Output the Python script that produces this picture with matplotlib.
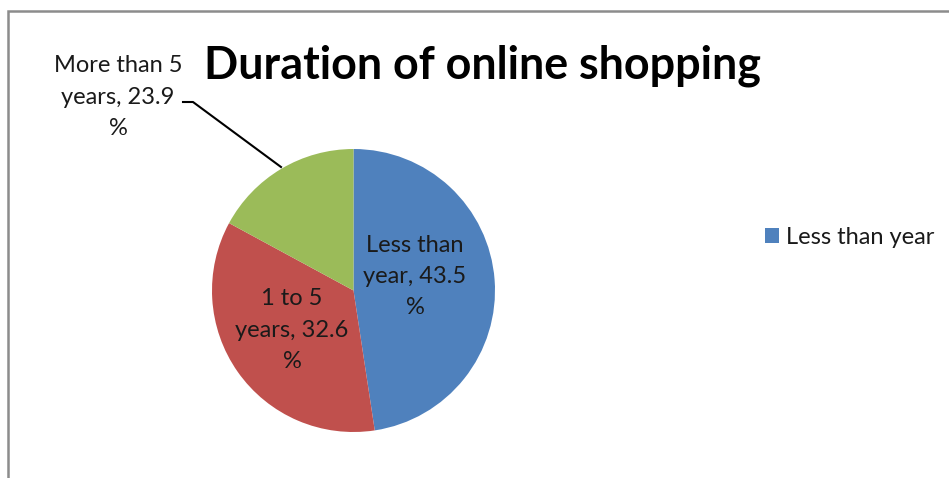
import numpy as np
import matplotlib
matplotlib.use("Agg")
from matplotlib import pyplot as plt
from matplotlib.patches import Rectangle

# slice shares as drawn in the picture (clockwise from 12 o'clock)
categories = ["Less than year", "1 to 5 years", "More than 5 years"]
shares = [47.6, 35.3, 17.1]
# percentages printed on the labels
label_pct = ["43.5", "32.6", "23.9"]
label_text = ["Less than\nyear, 43.5\n%", "1 to 5\nyears, 32.6\n%", "More than 5\nyears, 23.9\n%"]
colors = ["#4F81BD", "#C0504D", "#9BBB59"]

W, H = 949, 478
plt.rcParams['font.family'] = ['Lato', 'DejaVu Sans']
fig = plt.figure(figsize=(W / 100, H / 100), dpi=100)

# outer chart frame (only left and top edges visible)
fig.patches.append(Rectangle((8 / W, -0.1), 1.2, (H - 11) / H + 0.1, transform=fig.transFigure,
                             fill=False, edgecolor="#8c8c8c", linewidth=1.8))

# pie axes: centre (353.5, 290.5), radius 141.5 px
cx, cy, r = 353.5, 290.5, 141.5
ax = fig.add_axes([(cx - r) / W, (H - cy - r) / H, 2 * r / W, 2 * r / H])
wedges, _ = ax.pie(shares, colors=colors, startangle=90, counterclock=False,
                   wedgeprops=dict(linewidth=0))
ax.set_xlim(-1, 1)
ax.set_ylim(-1, 1)
ax.set_aspect("equal")
ax.axis("off")

txt = "#1a1a1a"
fs = 17
ls = 1.6
ax.text(0.435, 0.10, label_text[0], ha="center", va="center", fontsize=fs,
        color=txt, linespacing=ls)
ax.text(-0.435, -0.28, label_text[1], ha="center", va="center", fontsize=fs,
        color=txt, linespacing=ls)

# outside label with leader line (figure pixel coords)
def fx(x):
    return x / W

def fy(y):
    return 1 - y / H

fig.text(fx(118), fy(97), label_text[2], ha="center", va="center", fontsize=fs,
         color=txt, linespacing=ls)
fig.add_artist(plt.Line2D([fx(183), fx(193), fx(281)], [fy(102), fy(102), fy(167)],
                          color="black", linewidth=1.5))

fig.text(fx(483), fy(66), "Duration of online shopping", ha="center", va="center",
         fontsize=32.3, fontweight="bold", color="black")

fig.legend([wedges[0]], [categories[0]], loc="center left", bbox_to_anchor=(fx(744), fy(237)),
           frameon=False, fontsize=17, handlelength=0.6, handleheight=0.6,
           handletextpad=0.3, labelcolor=txt)

fig.savefig("out.png", dpi=100)
